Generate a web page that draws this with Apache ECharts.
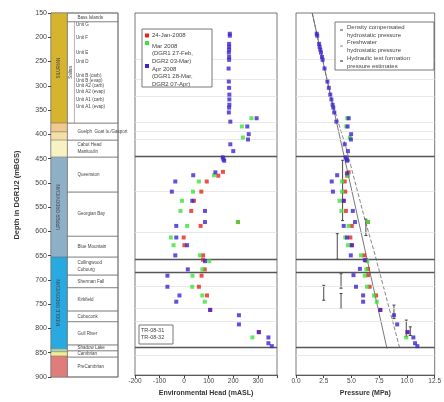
<!DOCTYPE html>
<html><head><meta charset="utf-8">
<script src="https://cdn.jsdelivr.net/npm/echarts@6/dist/echarts.min.js"></script>
<style>html,body{margin:0;padding:0;background:#fff}#c{width:444px;height:402px}</style>
</head><body><div id="c"></div>
<script>
// ---------------- DATA ----------------
// Geological periods (colour bar)
const periodNames  = ['SILURIAN','','','','UPPER ORDOVICIAN','MIDDLE ORDOVICIAN','','',''];
const periodTop    = [150,377,395,412,447,653,842,848,857];
const periodBottom = [377,395,412,447,653,842,848,857,900];
// Group column
const groupNames  = ['Salina'];
const groupTop    = [168];
const groupBottom = [377];
// Salina sub-units (text only)
const salinaNames = ['Unit G','Unit F','Unit E','Unit D','Unit B (carb)','Unit B (evap)','Unit A2 (carb)','Unit A2 (evap)','Unit A1 (carb)','Unit A1 (evap)'];
const salinaDepth = [175,201,232,251,280,290,300,313,329,344];
// Formations (boxed)
const formationNames  = ['Bass Islands','Guelph  Goat Is./Gasport','Cabot Head\nManitoulin','Queenston','Georgian Bay','Blue Mountain','Collingwood\nCobourg','Sherman Fall','Kirkfield','Coboconk','Gull River','Shadow Lake','Cambrian','PreCambrian'];
const formationTop    = [150,377,412,447,519,610,653,690,716,764,786,834,846,859];
const formationBottom = [168,412,447,519,610,653,690,716,764,786,834,846,859,900];

// Boundaries drawn across the data panels
const minorBoundaries = [245,288,323,377,395,412,519,605,716,762,788,859];
const majorBoundaries = [447,661,688,842];

// Environmental head (mASL) vs depth (mBGS)
const janHead  = [158,139,92,70,40,29,219,67,-2,1,77,77,84,71,60,93,106,304];
const janDepth = [479,487,499,520,539,560,583,591,615,631,652,661,681,694,717,735,765,811];
const marHead  = [274,235,239,122,60,36,-9,-15,219,12,-54,-43,64,102,74,34,33,74,84,278];
const marDepth = [368,385,408,486,499,520,539,560,583,591,615,631,652,664,681,694,717,735,748,822];
const aprHead  = [186,186,183,183,183,182,183,183,181,182,183,184,184,184,183,182,188,295,257,263,260,188,200,157,160,163,127,37,-36,-50,33,85,85,-32,-32,12,-36,85,15,-68,-68,-19,-32,106,223,223,304,343,343,357];
const aprDepth = [193,197,214,220,226,232,241,247,265,292,305,319,329,340,346,356,375,368,385,401,412,422,436,449,453,456,480,486,499,520,539,560,583,591,615,631,652,664,681,694,717,735,748,765,776,795,811,822,834,840];

// Pressure (MPa) vs depth (mBGS)
const janP      = [4.74,4.62,4.39,4.44,4.30,4.50,6.49,5.03,4.90,5.03,6.14,6.30,6.49,6.49,6.64,7.22,7.60,10.06];
const janPDepth = [480,487,499,520,539,560,583,591,615,631,652,662,680,693,717,735,765,811];
const marP      = [4.62,4.53,4.85,4.68,4.15,4.15,3.92,4.09,6.49,4.74,4.44,4.68,5.85,6.43,6.34,6.20,6.40,7.02,7.28,9.94];
const marPDepth = [368,385,408,486,499,520,539,560,583,591,615,631,652,664,681,694,717,735,748,822];
const aprP      = [1.87,1.91,2.08,2.13,2.19,2.25,2.34,2.40,2.57,2.83,2.96,3.09,3.19,3.30,3.36,3.45,3.64,4.75,4.65,4.97,4.95,4.39,4.68,4.47,4.59,4.60,4.59,3.71,3.22,3.33,4.30,5.12,5.32,4.30,4.60,5.03,4.94,6.20,5.76,5.18,5.41,6.05,6.05,7.60,8.83,9.12,10.06,10.58,10.73,10.94];
const aprPDepth = [193,197,214,220,226,232,241,247,265,292,305,319,329,340,346,356,375,368,385,401,412,422,436,449,453,456,482,486,499,520,539,560,583,591,615,631,652,662,680,693,717,735,748,765,776,795,811,822,834,840];

// Reference pressure profiles
const freshP      = [1.46, 8.20];
const freshDepth  = [150, 845];
const densityP     = [1.46, 3.20, 4.55, 6.20, 7.10, 9.36];
const densityDepth = [150, 330, 432, 577, 649, 845];

// Hydraulic test formation pressure estimates (test intervals)
const hydP      = [4.20, 6.30, 3.72, 4.06, 4.06, 2.50, 8.83, 9.94, 10.30];
const hydTop    = [455, 577, 607, 690, 731, 714, 755, 786, 800];
const hydBottom = [580, 611, 660, 720, 762, 745, 783, 820, 818];

// Axis ticks
const depthTicks = {min:150, max:900, step:50};
const headTicks  = {min:-200, max:378, step:100};
const presTicks  = {min:0, max:12.5, step:2.5};

// ---------------- STYLE ----------------
const FONT = 'Liberation Sans';
const periodColors = ['#d6b42e','#f1c98e','#f6dfa6','#f7f1c4','#8eb0c6','#28a9e0','#a9dcb0','#f2ec94','#e07c7c'];
const cRed = '#e3261c', cGreen = '#3fe23a', cBlue = '#3b24d0';

const chart = echarts.init(document.getElementById('c'));
const pair = (a,b) => a.map((v,i)=>[v,b[i]]);

function yAxisDepth(gi, showLabels){
  return {gridIndex:gi, type:'value', inverse:true, min:depthTicks.min, max:depthTicks.max, interval:depthTicks.step,
    axisLine:{show:showLabels, lineStyle:{color:'#444', width:0.8}},
    axisTick:{show:showLabels, length:3, lineStyle:{color:'#444'}},
    axisLabel:{show:showLabels, fontSize:7, color:'#444', margin:4, fontFamily:FONT},
    splitLine:{show:false},
    name: showLabels ? 'Depth in DGR1/2 (mBGS)' : '', nameLocation:'middle', nameGap:30,
    nameTextStyle:{fontSize:7.5, fontWeight:'bold', color:'#333', fontFamily:FONT}};
}

const periodSeries = {
  type:'custom', xAxisIndex:0, yAxisIndex:0, silent:true,
  data: periodTop.map((t,i)=>[0,t,periodBottom[i]]),
  encode:{x:0, y:[1,2]},
  renderItem(params, api){
    const i = params.dataIndex;
    const p1 = api.coord([0, api.value(1)]), p2 = api.coord([0.245, api.value(2)]);
    const ch = [{type:'rect', shape:{x:p1[0], y:p1[1], width:p2[0]-p1[0], height:p2[1]-p1[1]},
      style:{fill:periodColors[i], stroke:'#666', lineWidth:0.4}}];
    if (periodNames[i]) ch.push({type:'text', x:(p1[0]+p2[0])/2, y:(p1[1]+p2[1])/2, rotation:Math.PI/2,
      style:{text:periodNames[i], fontSize:4.5, fill:'#445', align:'center', verticalAlign:'middle', fontFamily:FONT}});
    return {type:'group', children:ch};
  }
};
const groupSeries = {
  type:'custom', xAxisIndex:0, yAxisIndex:0, silent:true,
  data: groupTop.map((t,i)=>[0,t,groupBottom[i]]),
  encode:{x:0, y:[1,2]},
  renderItem(params, api){
    const i = params.dataIndex;
    const p1 = api.coord([0.245, api.value(1)]), p2 = api.coord([0.35, api.value(2)]), p3 = api.coord([1, api.value(2)]);
    return {type:'group', children:[
      {type:'rect', shape:{x:p1[0], y:p1[1], width:p3[0]-p1[0], height:p3[1]-p1[1]}, style:{fill:'none', stroke:'#666', lineWidth:0.5}},
      {type:'line', shape:{x1:p2[0], y1:p1[1], x2:p2[0], y2:p2[1]}, style:{stroke:'#666', lineWidth:0.5}},
      {type:'text', x:(p1[0]+p2[0])/2, y:(p1[1]+p2[1])/2, rotation:Math.PI/2,
       style:{text:groupNames[i], fontSize:4.5, fill:'#444', align:'center', verticalAlign:'middle', fontFamily:FONT}}]};
  }
};
const salinaSeries = {
  type:'custom', xAxisIndex:0, yAxisIndex:0, silent:true,
  data: salinaDepth.map(d=>[0.36,d]),
  encode:{x:0, y:1},
  renderItem(params, api){
    const p = api.coord([api.value(0), api.value(1)]);
    return {type:'text', x:p[0]+1, y:p[1], style:{text:salinaNames[params.dataIndex], fontSize:4.5, fill:'#444', align:'left', verticalAlign:'middle', fontFamily:FONT}};
  }
};
const formationSeries = {
  type:'custom', xAxisIndex:0, yAxisIndex:0, silent:true,
  data: formationTop.map((t,i)=>[0.245,t,formationBottom[i]]),
  encode:{x:0, y:[1,2]},
  renderItem(params, api){
    const i = params.dataIndex;
    const p1 = api.coord([0.245, api.value(1)]), p2 = api.coord([1, api.value(2)]);
    return {type:'group', children:[
      {type:'rect', shape:{x:p1[0], y:p1[1], width:p2[0]-p1[0], height:p2[1]-p1[1]}, style:{fill:'none', stroke:'#666', lineWidth:0.5}},
      {type:'text', x:p1[0]+10, y:(p1[1]+p2[1])/2, style:{text:formationNames[i], fontSize:4.5, lineHeight:7, fill:'#444', align:'left', verticalAlign:'middle', fontFamily:FONT}}]};
  }
};

function boundaryLines(xi, yi){
  return {type:'line', xAxisIndex:xi, yAxisIndex:yi, data:[], silent:true, symbol:'none',
    markLine:{silent:true, symbol:'none', label:{show:false}, animation:false,
      data: minorBoundaries.map(d=>({yAxis:d, lineStyle:{color:'#e2e2e2', width:0.8, type:'solid'}}))
        .concat(majorBoundaries.map(d=>({yAxis:d, lineStyle:{color:'#555', width:1.3, type:'solid'}})))}};
}

function scatter(name, xi, data, color){
  return {name, type:'scatter', xAxisIndex:xi, yAxisIndex:xi, data, symbol:'rect', symbolSize:4,
    itemStyle:{color}, z:5};
}

const hydSeries = {
  name:'Hydraulic test formation pressure estimates', type:'custom', xAxisIndex:2, yAxisIndex:2, silent:true, z:4,
  data: hydP.map((p,i)=>[p, hydTop[i], hydBottom[i]]),
  encode:{x:0, y:[1,2]},
  renderItem(params, api){
    const a = api.coord([api.value(0), api.value(1)]), b = api.coord([api.value(0), api.value(2)]);
    const s = {stroke:'#333', lineWidth:0.9};
    return {type:'group', children:[
      {type:'line', shape:{x1:a[0], y1:a[1], x2:b[0], y2:b[1]}, style:s},
      {type:'line', shape:{x1:a[0]-1.5, y1:a[1], x2:a[0]+1.5, y2:a[1]}, style:s},
      {type:'line', shape:{x1:b[0]-1.5, y1:b[1], x2:b[0]+1.5, y2:b[1]}, style:s}]};
  }
};

const option = {
  animation:false,
  backgroundColor:'#fff',
  textStyle:{fontFamily:FONT},
  grid:[
    {left:51, top:13, width:67, height:364, show:true, borderColor:'#555', borderWidth:0.8, backgroundColor:'#fff'},
    {left:135, top:13, width:142, height:364, show:true, borderColor:'#555', borderWidth:0.8},
    {left:296, top:13, width:143, height:364, show:true, borderColor:'#555', borderWidth:0.8}
  ],
  xAxis:[
    {gridIndex:0, type:'value', min:0, max:1, show:false},
    {gridIndex:1, type:'value', min:headTicks.min, max:headTicks.max, interval:headTicks.step,
      axisLine:{lineStyle:{color:'#444', width:0.8}}, axisTick:{length:3, lineStyle:{color:'#444'}},
      axisLabel:{fontSize:6.5, color:'#444', margin:3, fontFamily:FONT, formatter:v => (v % 100 === 0 ? String(v) : '')},
      splitLine:{show:false},
      name:'Environmental Head (mASL)', nameLocation:'middle', nameGap:14,
      nameTextStyle:{fontSize:7, fontWeight:'bold', color:'#333', fontFamily:FONT}},
    {gridIndex:2, type:'value', min:presTicks.min, max:presTicks.max, interval:presTicks.step,
      axisLine:{lineStyle:{color:'#444', width:0.8}}, axisTick:{length:3, lineStyle:{color:'#444'}},
      axisLabel:{fontSize:6.5, color:'#444', margin:3, fontFamily:FONT, formatter:v => v.toFixed(1)},
      splitLine:{show:false},
      name:'Pressure (MPa)', nameLocation:'middle', nameGap:14,
      nameTextStyle:{fontSize:7, fontWeight:'bold', color:'#333', fontFamily:FONT}}
  ],
  yAxis:[yAxisDepth(0,true), yAxisDepth(1,false), yAxisDepth(2,false)],
  series:[
    periodSeries, groupSeries, salinaSeries, formationSeries,
    boundaryLines(1,1), boundaryLines(2,2),
    scatter('24-Jan-2008', 1, pair(janHead, janDepth), cRed),
    scatter('Mar 2008', 1, pair(marHead, marDepth), cGreen),
    scatter('Apr 2008', 1, pair(aprHead, aprDepth), cBlue),
    {name:'Freshwater hydrostatic pressure', type:'line', xAxisIndex:2, yAxisIndex:2, data:pair(freshP, freshDepth),
      symbol:'none', lineStyle:{color:'#555', width:0.8}, z:3},
    {name:'Density compensated hydrostatic pressure', type:'line', xAxisIndex:2, yAxisIndex:2, data:pair(densityP, densityDepth),
      symbol:'none', lineStyle:{color:'#666', width:0.8, type:[4,2]}, z:3},
    hydSeries,
    scatter('24-Jan-2008 P', 2, pair(janP, janPDepth), cRed),
    scatter('Mar 2008 P', 2, pair(marP, marPDepth), cGreen),
    scatter('Apr 2008 P', 2, pair(aprP, aprPDepth), cBlue)
  ],
  graphic:[
    // legend middle panel
    {type:'rect', shape:{x:142, y:29, width:70, height:58}, style:{fill:'#fff', stroke:'#555', lineWidth:0.8}, z:50},
    {type:'rect', shape:{x:145, y:33.5, width:4, height:4}, style:{fill:cRed}, z:51},
    {type:'rect', shape:{x:145, y:41, width:4, height:4}, style:{fill:cGreen}, z:51},
    {type:'rect', shape:{x:145, y:64, width:4, height:4}, style:{fill:cBlue}, z:51},
    {type:'text', x:152, y:35.5, z:51, style:{text:'24-Jan-2008', fontSize:6, fill:'#444', verticalAlign:'middle', fontFamily:FONT}},
    {type:'text', x:152, y:43, z:51, style:{text:'Mar 2008\n(DGR1 27-Feb,\nDGR2 03-Mar)', fontSize:6, lineHeight:7.2, fill:'#444', verticalAlign:'top', fontFamily:FONT}, },
    {type:'text', x:152, y:66, z:51, style:{text:'Apr 2008\n(DGR1 28-Mar,\nDGR2 07-Apr)', fontSize:6, lineHeight:7.2, fill:'#444', verticalAlign:'top', fontFamily:FONT}},
    // legend right panel
    {type:'rect', shape:{x:335, y:22, width:99, height:48}, style:{fill:'#fff', stroke:'#555', lineWidth:0.8}, z:50},
    {type:'line', shape:{x1:340, y1:30, x2:343, y2:30}, style:{stroke:'#444', lineWidth:1}, z:51},
    {type:'line', shape:{x1:340, y1:46, x2:343, y2:46}, style:{stroke:'#888', lineWidth:1}, z:51},
    {type:'line', shape:{x1:340, y1:61, x2:343, y2:61}, style:{stroke:'#222', lineWidth:1}, z:51},
    {type:'text', x:347, y:23.5, z:51, style:{text:'Density compensated\nhydrostatic pressure\nFreshwater\nhydrostatic pressure\nHydraulic test formation\npressure estimates', fontSize:6, lineHeight:7.7, fill:'#444', verticalAlign:'top', fontFamily:FONT}},
    // TR box
    {type:'rect', shape:{x:139, y:325, width:34, height:19}, style:{fill:'#fff', stroke:'#555', lineWidth:0.8}, z:50},
    {type:'text', x:141, y:327, z:51, style:{text:'TR-08-31\nTR-08-32', fontSize:5.5, lineHeight:7, fill:'#444', verticalAlign:'top', fontFamily:FONT}}
  ]
};
chart.setOption(option);
</script></body></html>
